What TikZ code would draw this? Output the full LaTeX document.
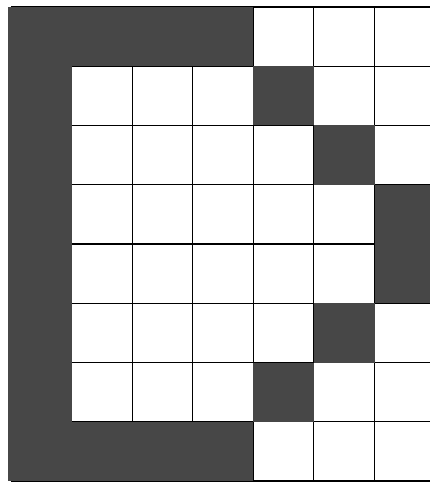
\documentclass[tikz,border=0pt]{standalone}
\usepackage{tikz}

\begin{document}
\begin{tikzpicture}[x=1.212cm,y=1.185cm]
  \useasboundingbox[fill=white] (-0.18,-0.084) rectangle (6.914,8.118);
  \clip (-0.18,-0.084) rectangle (6.914,8.118);
  \draw[line width=0.6pt,step=1] (0,0) grid (7,8);
  % frame on the left, top and bottom
  \fill[black!72] (-0.05,0) rectangle (1,8);
  \fill[black!72] (0,7) rectangle (4,8);
  \fill[black!72] (0,0) rectangle (4,1);
  % the bent line of dark cells
  \foreach \c/\r in {4/6,5/5,6/4,6/3,5/2,4/1}
    \fill[black!72] (\c,\r) rectangle ++(1,1);
\end{tikzpicture}
\end{document}
